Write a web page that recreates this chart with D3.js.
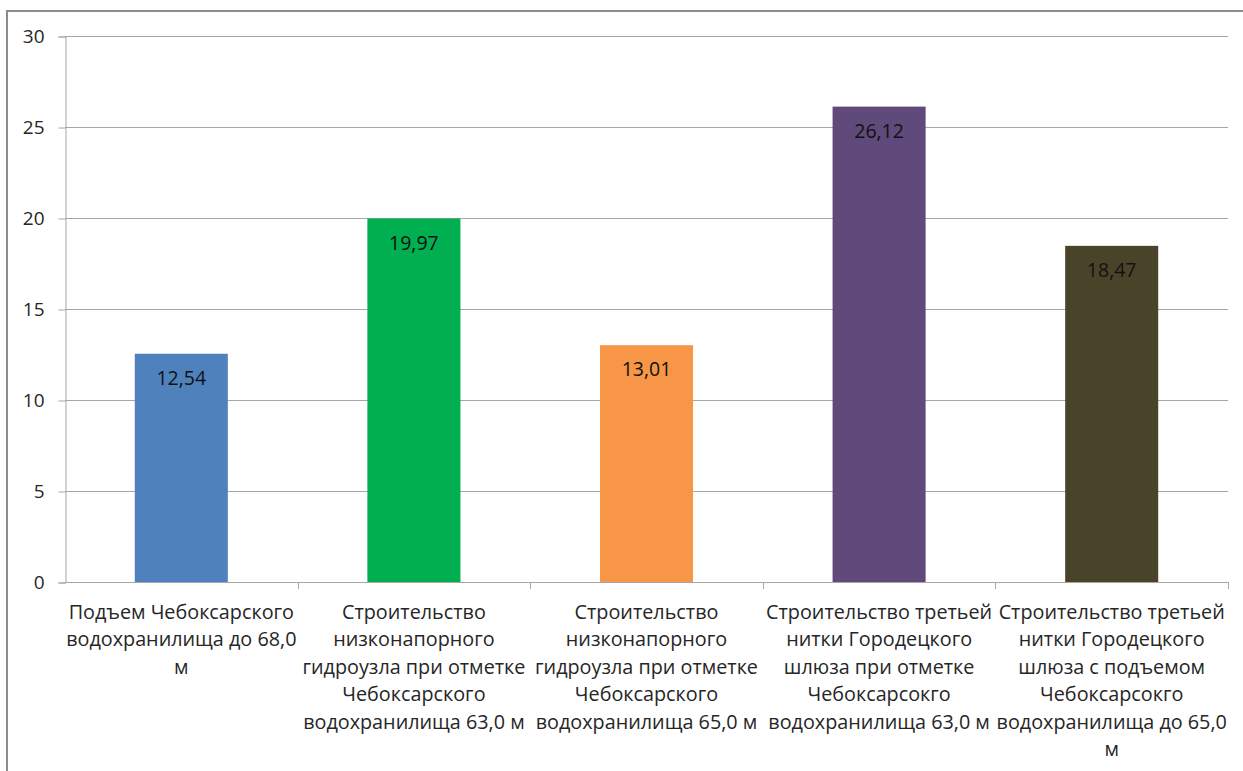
<!DOCTYPE html>
<html>
<head>
<meta charset="utf-8">
<script src="https://cdn.jsdelivr.net/npm/d3@7"></script>
<style>
  body { margin: 0; background: #fff; }
  svg text { font-family: "Open Sans", "Noto Sans", sans-serif; fill: #262626; }
</style>
</head>
<body>
<div id="chart"></div>
<script>
// данные
var categories = [
  ["Подъем Чебоксарского", "водохранилища до 68,0", "м"],
  ["Строительство", "низконапорного", "гидроузла при отметке", "Чебоксарского", "водохранилища 63,0 м"],
  ["Строительство", "низконапорного", "гидроузла при отметке", "Чебоксарского", "водохранилища 65,0 м"],
  ["Строительство третьей", "нитки Городецкого", "шлюза при отметке", "Чебоксарсокго", "водохранилища 63,0 м"],
  ["Строительство третьей", "нитки Городецкого", "шлюза с подъемом", "Чебоксарсокго", "водохранилища до 65,0", "м"]
]
var values = [12.54, 19.97, 13.01, 26.12, 18.47]
var labels = ["12,54", "19,97", "13,01", "26,12", "18,47"]
var colors = ["#4f81bd", "#00b050", "#f79646", "#604a7b", "#494429"]
var yTicks = [0, 5, 10, 15, 20, 25, 30]

var W = 1243, H = 771
var plot = {left: 65, right: 1228, top: 36, bottom: 582}

var svg = d3.select("#chart").append("svg")
  .attr("width", W)
  .attr("height", H)

// рамка
svg.append("rect")
  .attr("x", 7).attr("y", 11)
  .attr("width", W + 20).attr("height", H + 20)
  .attr("fill", "none")
  .attr("stroke", "#8c8c8c")
  .attr("stroke-width", 2)

var x = d3.scaleBand()
  .domain(d3.range(values.length))
  .range([plot.left, plot.right])
  .paddingInner(0.6)
  .paddingOuter(0.3)

var y = d3.scaleLinear()
  .domain([0, 30])
  .range([plot.bottom, plot.top])

// сетка
svg.append("g")
  .selectAll("line")
  .data(yTicks.filter(function(d) { return d > 0 }))
  .enter().append("line")
  .attr("x1", plot.left).attr("x2", plot.right)
  .attr("y1", function(d) { return y(d) + 0.5 })
  .attr("y2", function(d) { return y(d) + 0.5 })
  .attr("stroke", "#a6a6a6")

// ось Y
var yAxis = svg.append("g")
  .attr("transform", "translate(" + (plot.left + 0.5) + ",0.5)")
  .call(d3.axisLeft(y).tickValues(yTicks).tickSize(7).tickPadding(14).tickFormat(d3.format("d")))
yAxis.select(".domain").attr("stroke", "#a6a6a6")
yAxis.selectAll(".tick line").attr("stroke", "#a6a6a6")
yAxis.selectAll(".tick text")
  .attr("font-size", 19)
  .attr("font-family", null)
  .attr("fill", null)

// ось X
var step = x.step()
var bounds = d3.range(values.length + 1).map(function(i) { return plot.left + i * step })
svg.append("line")
  .attr("x1", plot.left).attr("x2", plot.right)
  .attr("y1", plot.bottom + 0.5).attr("y2", plot.bottom + 0.5)
  .attr("stroke", "#a6a6a6")
svg.append("g")
  .selectAll("line")
  .data(bounds.slice(1))
  .enter().append("line")
  .attr("x1", function(d) { return Math.round(d) + 0.5 })
  .attr("x2", function(d) { return Math.round(d) + 0.5 })
  .attr("y1", plot.bottom).attr("y2", plot.bottom + 7)
  .attr("stroke", "#a6a6a6")

// столбцы
var group = svg.append("g")
  .selectAll("g")
  .data(values)
  .enter().append("g")

group.append("rect")
  .attr("x", function(d, i) { return x(i) })
  .attr("width", x.bandwidth())
  .attr("y", function(d) { return y(d) })
  .attr("height", function(d) { return y(0) - y(d) })
  .attr("fill", function(d, i) { return colors[i] })

group.append("text")
  .attr("x", function(d, i) { return x(i) + x.bandwidth() / 2 })
  .attr("y", function(d) { return y(d) + 31 })
  .attr("text-anchor", "middle")
  .attr("font-size", 19.5)
  .style("fill", "#111")
  .text(function(d, i) { return labels[i] })

// подписи категорий
var cat = svg.append("g")
  .selectAll("text")
  .data(categories)
  .enter().append("text")
  .attr("text-anchor", "middle")
  .attr("font-size", 19.8)
  .attr("transform", function(d, i) { return "translate(" + (x(i) + x.bandwidth() / 2) + ",619)" })

cat.selectAll("tspan")
  .data(function(d) { return d })
  .enter().append("tspan")
  .attr("x", 0)
  .attr("y", function(d, j) { return j * 27.4 })
  .text(function(d) { return d })
</script>
</body>
</html>
